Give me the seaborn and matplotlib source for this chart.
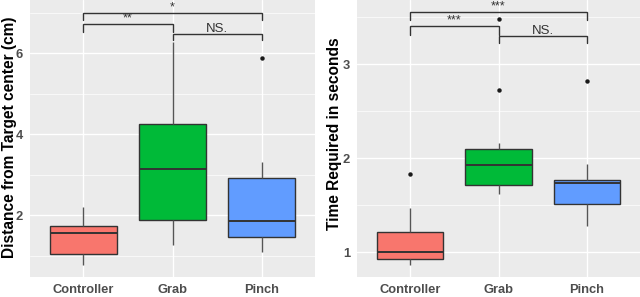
import matplotlib
matplotlib.use("Agg")
import matplotlib.pyplot as plt
import seaborn as sns
import pandas as pd
from matplotlib.ticker import FixedLocator

# ---------------- data ----------------
categories = ["Controller", "Grab", "Pinch"]
colors = ["#F8766D", "#00BA38", "#619CFF"]

# five-number summaries (whisker low, Q1, median, Q3, whisker high)
dist_controller = [0.77, 1.05, 1.57, 1.74, 2.19]
dist_grab = [1.26, 1.88, 3.13, 4.25, 6.29]
dist_pinch = [1.09, 1.46, 1.86, 2.91, 3.32]
dist_outlier_cat = ["Pinch"]
dist_outlier_val = [5.89]

time_controller = [0.865, 0.925, 1.00, 1.21, 1.47]
time_grab = [1.62, 1.71, 1.93, 2.10, 2.16]
time_pinch = [1.28, 1.51, 1.74, 1.77, 1.94]
time_outlier_cat = ["Controller", "Grab", "Grab", "Pinch"]
time_outlier_val = [1.83, 2.72, 3.48, 2.82]

# significance brackets: (from, to, label, bar height, tip height)
dist_sig_pairs = [(0, 2), (0, 1), (1, 2)]
dist_sig_labels = ["*", "**", "NS."]
dist_sig_y = [7.01, 6.72, 6.49]
dist_sig_tip = [6.82, 6.53, 6.33]

time_sig_pairs = [(0, 2), (0, 1), (1, 2)]
time_sig_labels = ["***", "***", "NS."]
time_sig_y = [3.55, 3.40, 3.30]
time_sig_tip = [3.47, 3.31, 3.22]

# ---------------- style ----------------
sns.set_theme(style="darkgrid", rc={
    "axes.facecolor": "#EBEBEB",
    "grid.color": "white",
})
plt.rcParams["font.family"] = ["Liberation Sans", "DejaVu Sans"]

fig = plt.figure(figsize=(6.4, 2.97), dpi=100)
ax1 = fig.add_axes([30 / 640, 20 / 297, 285 / 640, 277 / 297])
ax2 = fig.add_axes([357 / 640, 20 / 297, 283 / 640, 277 / 297])


def long_df(groups):
    rows = []
    for cat, vals in zip(categories, groups):
        for v in vals:
            rows.append({"cat": cat, "val": v})
    return pd.DataFrame(rows)


def draw(ax, groups, out_cat, out_val, pairs, labels, ys, tips,
         ylim, major, minor, ylabel, label_xy):
    df = long_df(groups)
    sns.boxplot(data=df, x="cat", y="val", hue="cat", order=categories,
                hue_order=categories, palette=colors, legend=False,
                whis=(0, 100), width=0.75, linecolor="#333333",
                linewidth=1.0, showcaps=False, ax=ax,
                whiskerprops={"color": "#555555", "linewidth": 1.0},
                medianprops={"color": "#333333", "linewidth": 1.4},
                saturation=1)
    odf = pd.DataFrame({"cat": out_cat, "val": out_val})
    sns.stripplot(data=odf, x="cat", y="val", order=categories,
                  jitter=False, color="#1a1a1a", size=3.2, ax=ax, zorder=5)
    span = ylim[1] - ylim[0]
    px = span / 277.0
    for (a, b), lab, y, t in zip(pairs, labels, ys, tips):
        ax.plot([a, a, b, b], [t, y, y, t], color="#333333", lw=1.0,
                solid_joinstyle="miter", zorder=6, clip_on=False)
        if lab == "NS.":
            ax.text((a + b) / 2, y + 1.5 * px, lab, ha="center",
                    va="baseline", fontsize=9.5, color="#333333")
        else:
            ax.text((a + b) / 2, y - 0.5 * px, lab, ha="center",
                    va="bottom", fontsize=9, color="#333333")
    ax.set_xlim(-0.6, 2.6)
    ax.set_ylim(*ylim)
    ax.yaxis.set_major_locator(FixedLocator(major))
    ax.yaxis.set_minor_locator(FixedLocator(minor))
    ax.grid(which="major", color="white", lw=1.0)
    ax.grid(which="minor", axis="y", color="white", lw=0.5)
    ax.set_xlabel("")
    ax.set_ylabel(ylabel, fontsize=11.2, fontweight="bold", color="black")
    ax.yaxis.set_label_coords(*label_xy)
    ax.tick_params(axis="both", which="major", length=3, width=0.8,
                   color="#333333", pad=2, labelsize=9.3,
                   labelcolor="#4D4D4D")
    ax.tick_params(axis="y", which="minor", length=0)
    for lab in ax.get_xticklabels() + ax.get_yticklabels():
        lab.set_fontweight("bold")
    for s in ax.spines.values():
        s.set_visible(False)


draw(ax1, [dist_controller, dist_grab, dist_pinch], dist_outlier_cat,
     dist_outlier_val, dist_sig_pairs, dist_sig_labels, dist_sig_y,
     dist_sig_tip, (0.47, 7.32), [2, 4, 6], [1, 3, 5, 7],
     "Distance from Target center (cm)", (-13 / 285, 0.504))
draw(ax2, [time_controller, time_grab, time_pinch], time_outlier_cat,
     time_outlier_val, time_sig_pairs, time_sig_labels, time_sig_y,
     time_sig_tip, (0.737, 3.68), [1, 2, 3], [1.5, 2.5, 3.5],
     "Time Required in seconds", (-15 / 283, 0.516))

fig.savefig("out.png", dpi=100)
